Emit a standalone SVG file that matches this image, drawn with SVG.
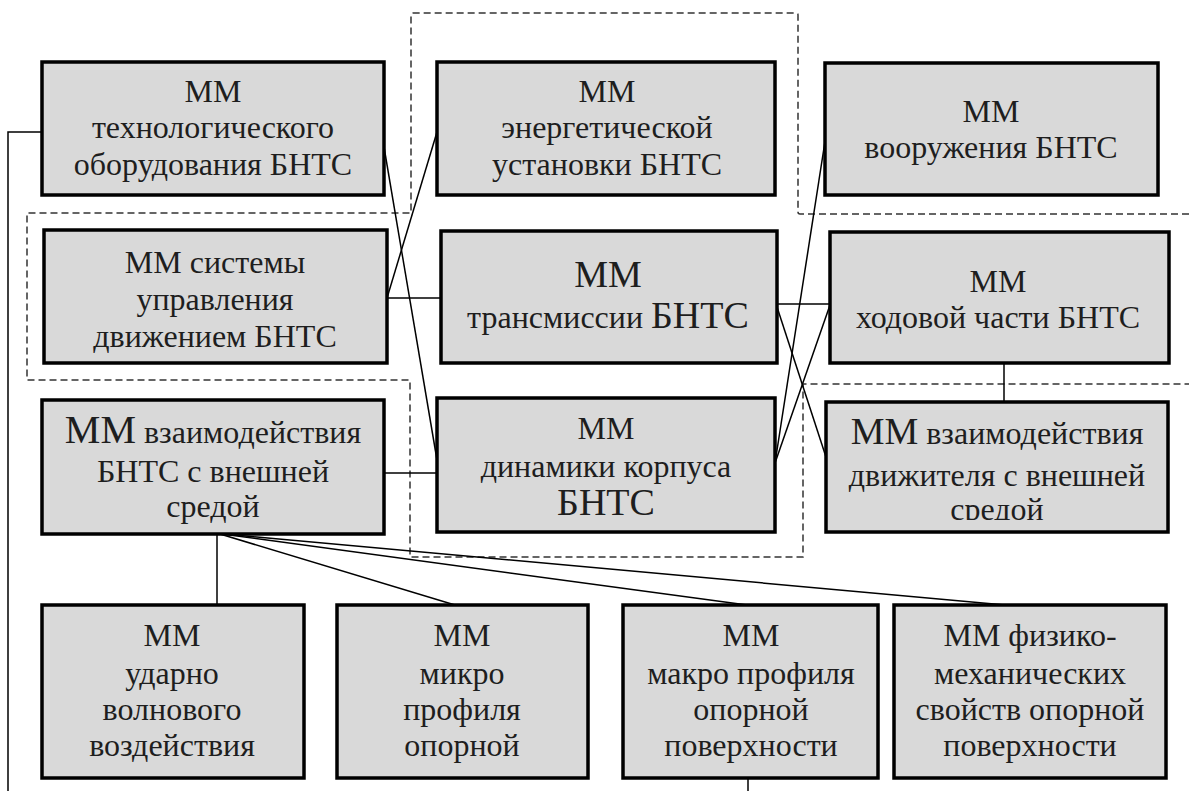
<svg xmlns="http://www.w3.org/2000/svg" width="1189" height="791" viewBox="0 0 1189 791">
<style>
.box{fill:#d9d9d9;stroke:#000;stroke-width:3.5}
.t{font-family:'Liberation Serif','Times New Roman',serif;font-size:32px;fill:#1e1e1e;text-anchor:middle}
.big{font-size:38px}
.conn{stroke:#000;stroke-width:1.5;fill:none}
.dash{stroke:#333;stroke-width:1.5;stroke-dasharray:7 4;fill:none}
</style>
<defs>
<clipPath id="clip9"><rect x="826" y="402" width="342" height="118"/></clipPath>
</defs>
<rect width="1189" height="791" fill="#fff"/>
<g id="groups">
<path class="dash" d="M1189,214 L800,214 Q798,214 798,212 L798,15 Q798,13 796,13 L413,13 Q411,13 411,15 L411,213 L27,213 L27,380 L410,380 L410,557 L803,557 L803,384 L1189,384"/>
</g>
<g id="connectors">
<polyline class="conn" points="42,132 8,132 8,791"/>
<line class="conn" x1="384" y1="147" x2="437" y2="460"/>
<line class="conn" x1="387" y1="298" x2="437" y2="132"/>
<line class="conn" x1="387" y1="298" x2="441" y2="298"/>
<line class="conn" x1="384" y1="473" x2="437" y2="473"/>
<line class="conn" x1="777" y1="304" x2="830" y2="304"/>
<line class="conn" x1="777" y1="307" x2="826" y2="457"/>
<line class="conn" x1="775" y1="463" x2="826" y2="135"/>
<line class="conn" x1="775" y1="463" x2="830" y2="305"/>
<line class="conn" x1="1004" y1="363" x2="1004" y2="402"/>
<line class="conn" x1="217" y1="534" x2="217" y2="605"/>
<line class="conn" x1="220" y1="534" x2="455" y2="605"/>
<line class="conn" x1="222" y1="534" x2="747" y2="605"/>
<line class="conn" x1="224" y1="534" x2="1005" y2="605"/>
<line class="conn" x1="748" y1="778" x2="748" y2="791"/>
</g>
<g id="n1">
<rect class="box" x="42" y="62" width="342" height="133"/>
<text class="t" x="213" y="102">ММ</text>
<text class="t" x="213" y="138">технологического</text>
<text class="t" x="213" y="175">оборудования БНТС</text>
</g>
<g id="n2">
<rect class="box" x="437" y="62" width="338" height="133"/>
<text class="t" x="607" y="102">ММ</text>
<text class="t" x="607" y="138">энергетической</text>
<text class="t" x="607" y="175">установки БНТС</text>
</g>
<g id="n3">
<rect class="box" x="825" y="63" width="333" height="132"/>
<text class="t" x="991" y="122">ММ</text>
<text class="t" x="991" y="158">вооружения БНТС</text>
</g>
<g id="n4">
<rect class="box" x="44" y="230" width="343" height="133"/>
<text class="t" x="215" y="273">ММ системы</text>
<text class="t" x="215" y="310">управления</text>
<text class="t" x="215" y="347">движением БНТС</text>
</g>
<g id="n5">
<rect class="box" x="441" y="231" width="336" height="132"/>
<text class="t big" x="608" y="287">ММ</text>
<text class="t" x="608" y="328">трансмиссии <tspan class="big">БНТС</tspan></text>
</g>
<g id="n6">
<rect class="box" x="830" y="232" width="339" height="131"/>
<text class="t" x="998" y="292">ММ</text>
<text class="t" x="998" y="328">ходовой части БНТС</text>
</g>
<g id="n7">
<rect class="box" x="42" y="400" width="342" height="134"/>
<text class="t" x="213" y="443"><tspan font-size="40">ММ</tspan> взаимодействия</text>
<text class="t" x="213" y="482">БНТС с внешней</text>
<text class="t" x="213" y="517">средой</text>
</g>
<g id="n8">
<rect class="box" x="437" y="398" width="338" height="134"/>
<text class="t" x="606" y="439">ММ</text>
<text class="t" x="606" y="477">динамики корпуса</text>
<text class="t big" x="606" y="515">БНТС</text>
</g>
<g id="n9">
<rect class="box" x="826" y="402" width="342" height="130"/>
<text class="t" x="997" y="444"><tspan class="big">ММ</tspan> взаимодействия</text>
<text class="t" x="997" y="486">движителя с внешней</text>
<text class="t" x="997" y="520" clip-path="url(#clip9)">средой</text>
</g>
<g id="n10">
<rect class="box" x="42" y="605" width="262" height="173"/>
<text class="t" x="172" y="646">ММ</text>
<text class="t" x="172" y="684">ударно</text>
<text class="t" x="172" y="720">волнового</text>
<text class="t" x="172" y="756">воздействия</text>
</g>
<g id="n11">
<rect class="box" x="337" y="605" width="251" height="173"/>
<text class="t" x="462" y="646">ММ</text>
<text class="t" x="462" y="684">микро</text>
<text class="t" x="462" y="720">профиля</text>
<text class="t" x="462" y="756">опорной</text>
</g>
<g id="n12">
<rect class="box" x="623" y="605" width="255" height="173"/>
<text class="t" x="751" y="646">ММ</text>
<text class="t" x="751" y="684">макро профиля</text>
<text class="t" x="751" y="720">опорной</text>
<text class="t" x="751" y="756">поверхности</text>
</g>
<g id="n13">
<rect class="box" x="894" y="605" width="272" height="173"/>
<text class="t" x="1030" y="646">ММ физико-</text>
<text class="t" x="1030" y="684">механических</text>
<text class="t" x="1030" y="720">свойств опорной</text>
<text class="t" x="1030" y="756">поверхности</text>
</g>
</svg>
